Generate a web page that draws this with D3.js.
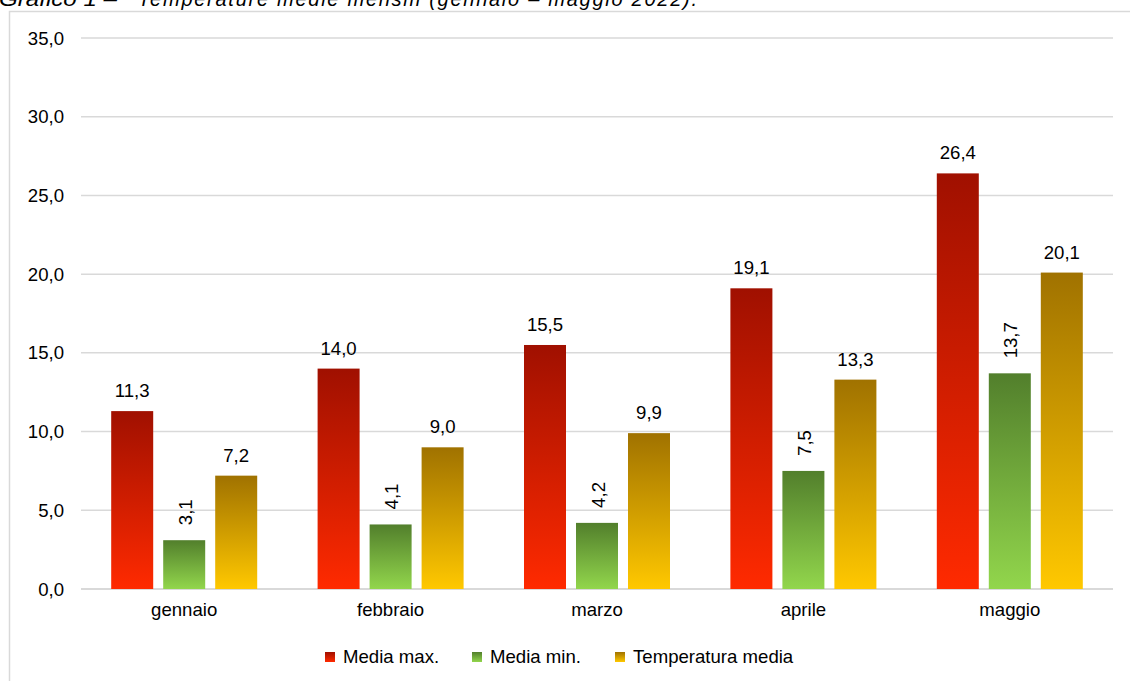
<!DOCTYPE html>
<html>
<head>
<meta charset="utf-8">
<script src="https://cdn.jsdelivr.net/npm/d3@7"></script>
<style>
  body { margin: 0; background: #fff; }
  text { font-family: Arial, "Liberation Sans", sans-serif; fill: #000; }
</style>
</head>
<body>
<script>
const months = ["gennaio", "febbraio", "marzo", "aprile", "maggio"];
const seriesNames = ["Media max.", "Media min.", "Temperatura media"];
const mediaMax = [11.3, 14.0, 15.5, 19.1, 26.4];
const mediaMin = [3.1, 4.1, 4.2, 7.5, 13.7];
const tempMedia = [7.2, 9.0, 9.9, 13.3, 20.1];
const yTicks = [0, 5, 10, 15, 20, 25, 30, 35];

// gradient colours per series, top -> bottom
const grads = [["#a01000", "#ff2a00"], ["#527f2c", "#92d64c"], ["#a07200", "#ffc800"]];

const W = 1130, H = 681;
const FS = 18.6;
const svg = d3.select("body").append("svg").attr("width", W).attr("height", H);

const defs = svg.append("defs");
grads.forEach((g, i) => {
  const lg = defs.append("linearGradient").attr("id", "g" + i)
    .attr("x1", 0).attr("y1", 0).attr("x2", 0).attr("y2", 1);
  lg.append("stop").attr("offset", "0%").attr("stop-color", g[0]);
  lg.append("stop").attr("offset", "100%").attr("stop-color", g[1]);
});

// title, cut at the top of the picture as in the source
svg.append("text").attr("x", -1).attr("y", 6)
  .attr("font-size", 20).attr("font-style", "italic")
  .attr("textLength", 118).attr("lengthAdjust", "spacingAndGlyphs")
  .text("Grafico 1 –");
svg.append("text").attr("x", 138).attr("y", 6)
  .attr("font-size", 20).attr("font-style", "italic")
  .attr("textLength", 559).attr("lengthAdjust", "spacing")
  .text("Temperature medie mensili (gennaio – maggio 2022).");

// outer frame
svg.append("rect").attr("x", 9.5).attr("y", 11.5).attr("width", W + 20).attr("height", H + 20)
  .attr("fill", "none").attr("stroke", "#d9d9d9").attr("stroke-width", 1.5);

const x0 = d3.scaleBand().domain(months).range([81, 1113]).paddingInner(0).paddingOuter(0);
const y = d3.scaleLinear().domain([0, 35]).range([589, 38]);

const series = [mediaMax, mediaMin, tempMedia];
const barW = 42, gap = 10;
const x1 = d3.scaleBand().domain(d3.range(3))
  .range([x0.bandwidth() / 2 - (3 * barW + 2 * gap) / 2, x0.bandwidth() / 2 + (3 * barW + 2 * gap) / 2])
  .paddingInner(gap / (barW + gap)).paddingOuter(0);

const fmt = v => d3.format(".1f")(v).replace(".", ",");

// grid
svg.append("g").selectAll("line").data(yTicks).join("line")
  .attr("x1", 81).attr("x2", 1113)
  .attr("y1", d => y(d)).attr("y2", d => y(d))
  .attr("stroke", "#d9d9d9").attr("stroke-width", d => d === 0 ? 2 : 1.5);

// y axis labels
svg.append("g").selectAll("text").data(yTicks).join("text")
  .attr("x", 64).attr("y", d => y(d) + 6.5)
  .attr("text-anchor", "end").attr("font-size", FS)
  .text(d => fmt(d));

// bars
const groups = svg.append("g").selectAll("g").data(months).join("g")
  .attr("transform", d => `translate(${x0(d)},0)`);

series.forEach((vals, s) => {
  groups.append("rect")
    .attr("x", x1(s)).attr("width", x1.bandwidth())
    .attr("y", (d, i) => y(vals[i]))
    .attr("height", (d, i) => y(0) - y(vals[i]))
    .attr("fill", `url(#g${s})`);

  if (s === 1) {
    groups.append("text")
      .attr("transform", (d, i) => `translate(${x1(s) + x1.bandwidth() / 2 + 1},${y(vals[i]) - 15}) rotate(-90)`)
      .attr("dominant-baseline", "central")
      .attr("font-size", FS)
      .text((d, i) => fmt(vals[i]));
  } else {
    groups.append("text")
      .attr("x", x1(s) + x1.bandwidth() / 2)
      .attr("y", (d, i) => y(vals[i]) - 14)
      .attr("text-anchor", "middle").attr("font-size", FS)
      .text((d, i) => fmt(vals[i]));
  }
});

// category labels
svg.append("g").selectAll("text").data(months).join("text")
  .attr("x", d => x0(d) + x0.bandwidth() / 2).attr("y", 616)
  .attr("text-anchor", "middle").attr("font-size", FS)
  .text(d => d);

// legend
const legX = [325, 472, 615];
const leg = svg.append("g").selectAll("g").data(seriesNames).join("g")
  .attr("transform", (d, i) => `translate(${legX[i]},652)`);
leg.append("rect").attr("width", 10).attr("height", 10).attr("fill", (d, i) => `url(#g${i})`);
leg.append("text").attr("x", 18).attr("y", 11).attr("font-size", FS).text(d => d);
</script>
</body>
</html>
